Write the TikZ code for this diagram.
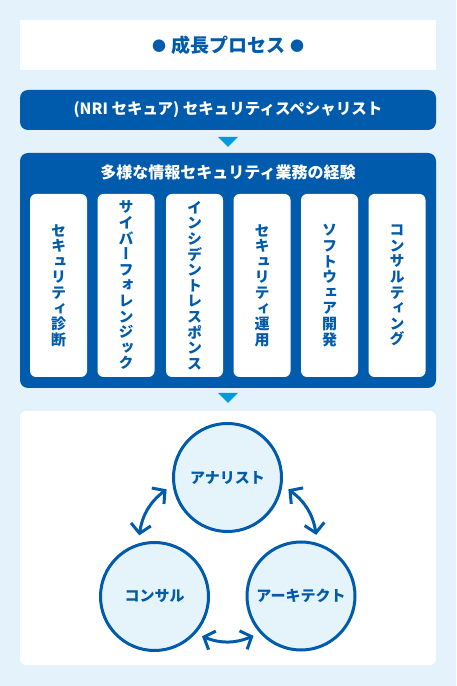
\documentclass[tikz,border=0pt]{standalone}
\usepackage{fontspec}
\setmainfont{Noto Sans CJK JP}
\newfontfamily\vfont[RawFeature=+vert]{Noto Sans CJK JP}
\usetikzlibrary{arrows.meta,calc}
\definecolor{bgblue}{HTML}{E4F2FB}
\definecolor{navy}{HTML}{005BAC}
\definecolor{cyanb}{HTML}{009BDD}
\definecolor{cfill}{HTML}{E5F3FB}
\tikzset{
  whitebox/.style={fill=white, draw=none},
  navybox/.style={fill=navy, draw=none, rounded corners=8pt},
  card/.style={fill=white, draw=none, rounded corners=6pt},
  cardtext/.style={text=navy, font=\vfont\bfseries\fontsize{15}{15.6}\selectfont, align=center, inner sep=0pt},
  downtri/.style={fill=cyanb, draw=none},
  role/.style={circle, draw=navy, line width=3pt, fill=cfill, minimum size=108pt, inner sep=0pt,
    text=navy, font=\bfseries\fontsize{15}{18}\selectfont},
  cyc/.style={draw=navy, line width=3pt, {Straight Barb[length=9pt,width=20pt]}-{Straight Barb[length=9pt,width=20pt]}}
}
\begin{document}
\begin{tikzpicture}[x=1pt,y=1pt]
\fill[bgblue] (0,0) rectangle (456,686);
\useasboundingbox (0,0) rectangle (456,686);
% title
\fill[whitebox] (20,616) rectangle (436,666);
\node[text=navy, font=\bfseries\fontsize{19}{21}\selectfont] (title) at (228,641)
  {\raisebox{1pt}{\fontsize{14}{15}\selectfont ●}\hspace{5pt}成長プロセス\hspace{5pt}\raisebox{1pt}{\fontsize{14}{15}\selectfont ●}};
% specialist bar
\fill[navybox] (20,556) rectangle (436,596);
\node[text=white, font=\bfseries\fontsize{15.5}{18}\selectfont] (spec) at (228,576) {(NRI セキュア) セキュリティスペシャリスト};
\fill[downtri] (218,549) -- (238,549) -- (228,539) -- cycle;
% experience box
\fill[navybox] (20,298) rectangle (436,533);
\node[text=white, font=\bfseries\fontsize{16}{18}\selectfont] (exp) at (228,514) {多様な情報セキュリティ業務の経験};
\foreach \x/\t in {
 58.5/{セ\\キ\\ュ\\リ\\テ\\ィ\\診\\断},
 126/{サ\\イ\\バ\\ー\\フ\\ォ\\レ\\ン\\ジ\\ッ\\ク},
 194.5/{イ\\ン\\シ\\デ\\ン\\ト\\レ\\ス\\ポ\\ン\\ス},
 262/{セ\\キ\\ュ\\リ\\テ\\ィ\\運\\用},
 329.5/{ソ\\フ\\ト\\ウ\\ェ\\ア\\開\\発},
 397/{コ\\ン\\サ\\ル\\テ\\ィ\\ン\\グ}}{
  \fill[card] (\x-28.5,309) rectangle (\x+28.5,492);
  \node[cardtext] at (\x,400.5) {\t};
}
\fill[downtri] (218,293) -- (238,293) -- (228,283) -- cycle;
% roles box
\fill[whitebox, rounded corners=6pt] (20,21) rectangle (436,275);
\node[role] (ana) at (227.5,208.5) {アナリスト};
\node[role] (con) at (154.5,89.5) {コンサル};
\node[role] (arc) at (301,90) {アーキテクト};
\draw[cyc] ($(ana.center)+(191:62)$) to[bend right=22] ($(con.center)+(104:63)$);
\draw[cyc] ($(ana.center)+(349:62)$) to[bend left=22] ($(arc.center)+(76:63)$);
\draw[cyc] ($(con.center)+(-40:62)$) to[bend right=22] ($(arc.center)+(220:62)$);
\end{tikzpicture}
\end{document}
